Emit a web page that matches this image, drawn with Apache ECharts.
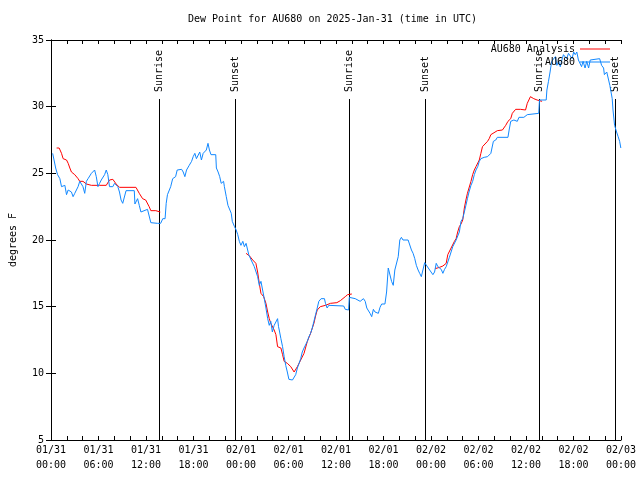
<!DOCTYPE html>
<html><head><meta charset="utf-8">
<script src="https://cdn.jsdelivr.net/npm/echarts@6/dist/echarts.min.js"></script>
<style>html,body{margin:0;padding:0;background:#fff}#c{width:640px;height:480px}</style>
</head><body><div id="c"></div>
<script>
// hours since 2025-01-31 00:00 UTC
const obsHours = [0.21,0.42,0.59,0.71,0.83,1.12,1.33,1.53,1.75,1.96,2.17,2.38,2.58,2.79,3.0,3.21,3.42,3.63,3.85,4.04,4.26,4.47,4.68,4.89,5.1,5.31,5.51,5.72,5.93,6.14,6.35,6.56,6.77,6.98,7.18,7.39,7.81,8.02,8.23,8.44,8.65,8.85,9.06,9.27,9.48,10.52,10.6,10.94,11.15,11.36,11.57,12.19,12.4,12.61,13.44,13.85,14.12,14.41,14.55,14.71,14.95,15.12,15.37,15.54,15.74,15.94,16.5,16.7,16.91,17.12,17.46,17.76,17.96,18.17,18.37,18.58,18.79,19.0,19.22,19.42,19.62,19.83,20.01,20.21,20.81,20.89,21.11,21.31,21.5,21.7,21.8,21.9,22.14,22.35,22.56,22.77,22.9,23.18,23.39,23.59,23.79,23.99,24.23,24.43,24.64,24.85,24.98,25.28,25.48,25.68,26.1,26.31,26.52,26.73,26.94,27.15,27.37,27.57,27.76,27.96,28.19,28.41,28.62,28.74,28.83,29.04,29.25,29.45,29.65,29.85,30.05,30.5,30.71,30.91,31.12,31.34,31.54,31.74,31.96,32.17,32.38,32.58,32.79,33.0,33.21,33.42,33.63,33.83,34.12,34.54,34.67,34.88,35.09,35.3,36.97,37.17,37.59,37.68,38.43,38.64,39.05,39.26,39.47,39.69,39.89,40.1,40.3,40.51,40.72,40.93,41.14,41.35,41.56,41.77,42.18,42.39,42.6,42.81,43.02,43.23,43.43,43.86,44.06,44.26,44.46,45.11,45.53,45.74,45.95,46.15,46.37,46.57,46.78,46.99,47.2,47.41,47.83,48.24,48.45,48.66,48.87,49.29,49.5,49.71,49.92,50.32,50.75,51.17,51.58,51.79,52.01,52.21,52.41,52.6,52.8,53.05,53.26,53.47,53.68,53.9,54.1,54.3,54.72,55.14,55.56,55.76,55.88,56.18,56.38,57.72,57.87,58.07,58.47,58.9,59.11,59.73,60.16,60.36,61.61,61.7,62.55,62.64,62.84,63.04,63.24,63.71,63.9,64.13,64.33,64.53,64.73,64.93,65.13,65.37,65.82,66.02,66.22,66.42,66.62,66.82,67.02,67.21,67.46,67.67,67.91,68.11,68.31,69.3,69.55,69.8,69.9,70.2,70.39,70.59,70.89,70.99,71.19,71.44,71.64,71.83,71.98];
const obsDew = [26.5,26.6,25.4,25.4,24.9,24.6,24.0,23.9,24.1,23.4,23.75,23.9,23.6,23.25,23.5,23.75,24.0,24.4,24.25,24.0,23.5,24.4,24.6,24.75,25.0,25.1,25.25,24.75,24.0,24.25,24.5,24.6,24.9,25.25,24.9,24.0,24.0,24.25,24.1,24.0,23.6,23.0,22.75,22.6,23.7,23.7,22.7,23.1,22.6,22.1,22.25,22.3,22.25,21.3,21.25,21.25,21.6,21.6,22.75,23.4,23.75,24.0,24.6,24.5,24.75,25.25,25.3,25.1,24.75,25.25,25.6,25.9,26.25,26.5,26.1,26.0,26.6,26.0,26.5,26.4,26.75,27.25,26.75,26.4,26.4,25.4,25.1,24.75,24.25,24.1,24.4,24.0,23.25,22.6,22.5,22.0,21.4,21.0,20.75,20.4,19.9,19.6,19.9,19.5,19.75,19.75,18.9,18.5,18.4,18.0,17.25,16.6,16.9,16.9,15.6,14.9,14.1,13.6,13.9,13.1,13.6,13.75,14.1,13.5,13.25,12.6,12.0,11.25,10.6,10.1,9.55,9.5,9.4,9.9,10.4,10.75,11.1,11.6,11.9,11.75,12.4,12.75,13.0,13.4,13.9,14.4,14.9,15.4,15.6,15.6,15.25,14.9,15.1,15.05,15.05,14.8,14.75,15.7,15.6,15.5,15.4,15.25,15.6,15.4,14.9,14.75,14.5,14.25,14.8,14.6,14.75,14.5,14.95,15.2,15.2,16.1,17.9,17.75,16.9,16.6,17.75,18.75,20.0,20.2,20.0,20.0,19.25,19.0,18.6,18.1,17.75,17.5,17.25,17.25,18.3,18.3,17.75,17.4,17.6,18.25,18.0,17.8,17.5,17.8,18.0,18.7,19.5,20.0,20.6,21.4,21.6,22.1,22.6,23.1,23.6,24.1,24.4,24.9,25.25,25.5,25.9,26.1,26.2,26.25,26.5,26.5,27.4,27.5,27.7,27.7,28.25,28.9,29.0,28.9,29.2,29.2,29.4,29.45,29.5,30.5,30.5,31.25,31.9,32.6,33.4,33.75,33.1,33.4,33.0,33.5,33.9,34.0,33.6,34.0,33.6,34.1,33.9,34.1,33.5,33.4,33.0,33.4,32.9,33.4,32.9,33.5,33.6,33.6,33.1,32.9,32.4,32.6,32.6,31.6,30.6,29.75,28.6,28.1,27.75,27.4,26.9];
const anaHours = [0.71,1.03,1.33,1.53,1.96,2.17,2.38,2.58,3.0,3.42,3.63,4.04,4.47,5.1,6.14,6.98,7.39,7.81,8.23,8.65,10.73,11.15,11.57,11.96,12.4,12.61,13.24,13.8,
  18.9,
  24.64,25.08,25.48,25.88,26.1,26.31,26.52,26.86,27.15,27.37,27.57,27.76,28.19,28.41,28.62,29.04,29.25,29.45,29.85,30.29,30.71,30.91,31.12,31.54,31.96,32.38,32.79,33.21,33.42,33.63,34.02,34.67,35.3,36.11,36.55,37.17,37.47,38.0,
  43.0,
  48.53,49.08,49.5,49.92,50.12,50.54,50.96,51.17,51.37,51.58,51.79,52.01,52.21,52.41,52.6,53.05,53.26,53.47,53.68,53.9,54.1,54.3,54.5,54.72,55.14,55.35,55.56,55.76,56.38,57.02,57.44,57.72,58.07,58.27,58.69,59.31,59.94,60.16,60.56,60.98,61.4,62.03];
const anaDew = [26.9,26.9,26.5,26.1,26.0,25.75,25.4,25.1,24.9,24.6,24.4,24.4,24.2,24.1,24.1,24.1,24.5,24.55,24.2,23.95,23.95,23.5,23.1,23.0,22.5,22.2,22.2,22.1,
  null,
  19.0,18.8,18.5,18.25,17.6,16.75,16.0,15.75,15.25,14.6,14.1,13.75,13.25,12.9,12.0,11.9,11.4,10.9,10.75,10.5,10.1,10.2,10.5,11.0,11.5,12.4,13.0,13.75,14.3,14.75,15.0,15.1,15.25,15.3,15.45,15.75,15.9,15.95,
  null,
  17.85,17.95,18.05,18.25,18.9,19.4,19.9,20.1,20.6,21.0,21.2,21.5,22.4,23.0,23.5,24.4,24.9,25.25,25.5,25.6,26.0,26.5,27.0,27.1,27.4,27.6,27.9,28.0,28.2,28.25,28.6,28.9,29.1,29.5,29.8,29.8,29.75,30.25,30.75,30.6,30.5,30.4];
const sunHours = [13.59, 23.18, 37.59, 47.19, 61.60, 71.30];
const sunLabels = ['Sunrise','Sunset','Sunrise','Sunset','Sunrise','Sunset'];
const xTickLabels = ['01/31\n00:00','01/31\n06:00','01/31\n12:00','01/31\n18:00','02/01\n00:00','02/01\n06:00','02/01\n12:00','02/01\n18:00','02/02\n00:00','02/02\n06:00','02/02\n12:00','02/02\n18:00','02/03\n00:00'];
const yTicks = [5,10,15,20,25,30,35];

const FONT = '"DejaVu Sans Mono", monospace';
const RED = '#ff0000', BLUE = '#1188ff';
const chart = echarts.init(document.getElementById('c'), null, {renderer:'canvas'});
const axisLine = {show:true, lineStyle:{color:'#000', width:1}};
const xBase = {type:'value', min:0, max:72, interval:6, splitLine:{show:false},
  axisLine: axisLine, axisTick:{show:true, inside:true, length:4, lineStyle:{color:'#000'}},
  minorTick:{show:true, splitNumber:3, length:4, lineStyle:{color:'#000'}}};
const yBase = {type:'value', min:yTicks[0], max:yTicks[yTicks.length-1], interval:5, splitLine:{show:false},
  axisLine: axisLine, axisTick:{show:true, inside:true, length:5, lineStyle:{color:'#000'}}};
chart.setOption({
  animation:false,
  backgroundColor:'#fff',
  title:{text:'Dew Point for AU680 on 2025-Jan-31 (time in UTC)', left:188, top:14, padding:0,
    textStyle:{fontFamily:FONT, fontSize:10, fontWeight:'normal', color:'#000'}},
  legend:[
    {data:['AU680 Analysis'], right:30, top:44, padding:0, align:'right', icon:'rect', itemWidth:30, itemHeight:1,
      textStyle:{fontFamily:FONT, fontSize:10, color:'#000'}},
    {data:['AU680'], right:30, top:57, padding:0, align:'right', icon:'rect', itemWidth:30, itemHeight:1,
      textStyle:{fontFamily:FONT, fontSize:10, color:'#000'}}
  ],
  grid:{left:47, right:19, top:40, bottom:40, containLabel:false},
  xAxis:[
    Object.assign({}, xBase, {position:'bottom', axisLabel:{show:true, fontFamily:FONT, fontSize:10, color:'#000', margin:3, lineHeight:15,
      formatter: v => xTickLabels[Math.round(v/6)]}}),
    Object.assign({}, xBase, {position:'top', axisLabel:{show:false}})
  ],
  yAxis:[
    Object.assign({}, yBase, {position:'left', name:'degrees F', nameLocation:'middle', nameRotate:90, nameGap:33,
      nameTextStyle:{fontFamily:FONT, fontSize:10, color:'#000'},
      axisLabel:{show:true, fontFamily:FONT, fontSize:10, color:'#000', margin:7}}),
    Object.assign({}, yBase, {position:'right', axisLabel:{show:false}})
  ],
  series:[
    {type:'custom', name:'sun', xAxisIndex:0, yAxisIndex:0, z:1, silent:true,
      data: sunHours.map((h,i)=>[h,i]),
      renderItem:(params, api)=>{
        const t = api.value(0), i = api.value(1);
        const bot = api.coord([t, yTicks[0]]);
        const cs = params.coordSys;
        const x = Math.round(bot[0]) + 0.5;
        return {type:'group', children:[
          {type:'line', shape:{x1:x, y1:cs.y+59, x2:x, y2:bot[1]}, style:{stroke:'#000', lineWidth:1}},
          {type:'text', x:x, y:cs.y+52, rotation:Math.PI/2,
            style:{text:sunLabels[i], textAlign:'left', textVerticalAlign:'middle', font:'10px '+FONT, fill:'#000'}}
        ]};
      }},
    {type:'line', name:'AU680 Analysis', z:2, showSymbol:false, connectNulls:false, color:RED,
      lineStyle:{color:RED, width:1}, data: anaHours.map((h,i)=>[h, anaDew[i]])},
    {type:'line', name:'AU680', z:3, showSymbol:false, color:BLUE,
      lineStyle:{color:BLUE, width:1}, data: obsHours.map((h,i)=>[h, obsDew[i]])}
  ]
});
</script></body></html>
